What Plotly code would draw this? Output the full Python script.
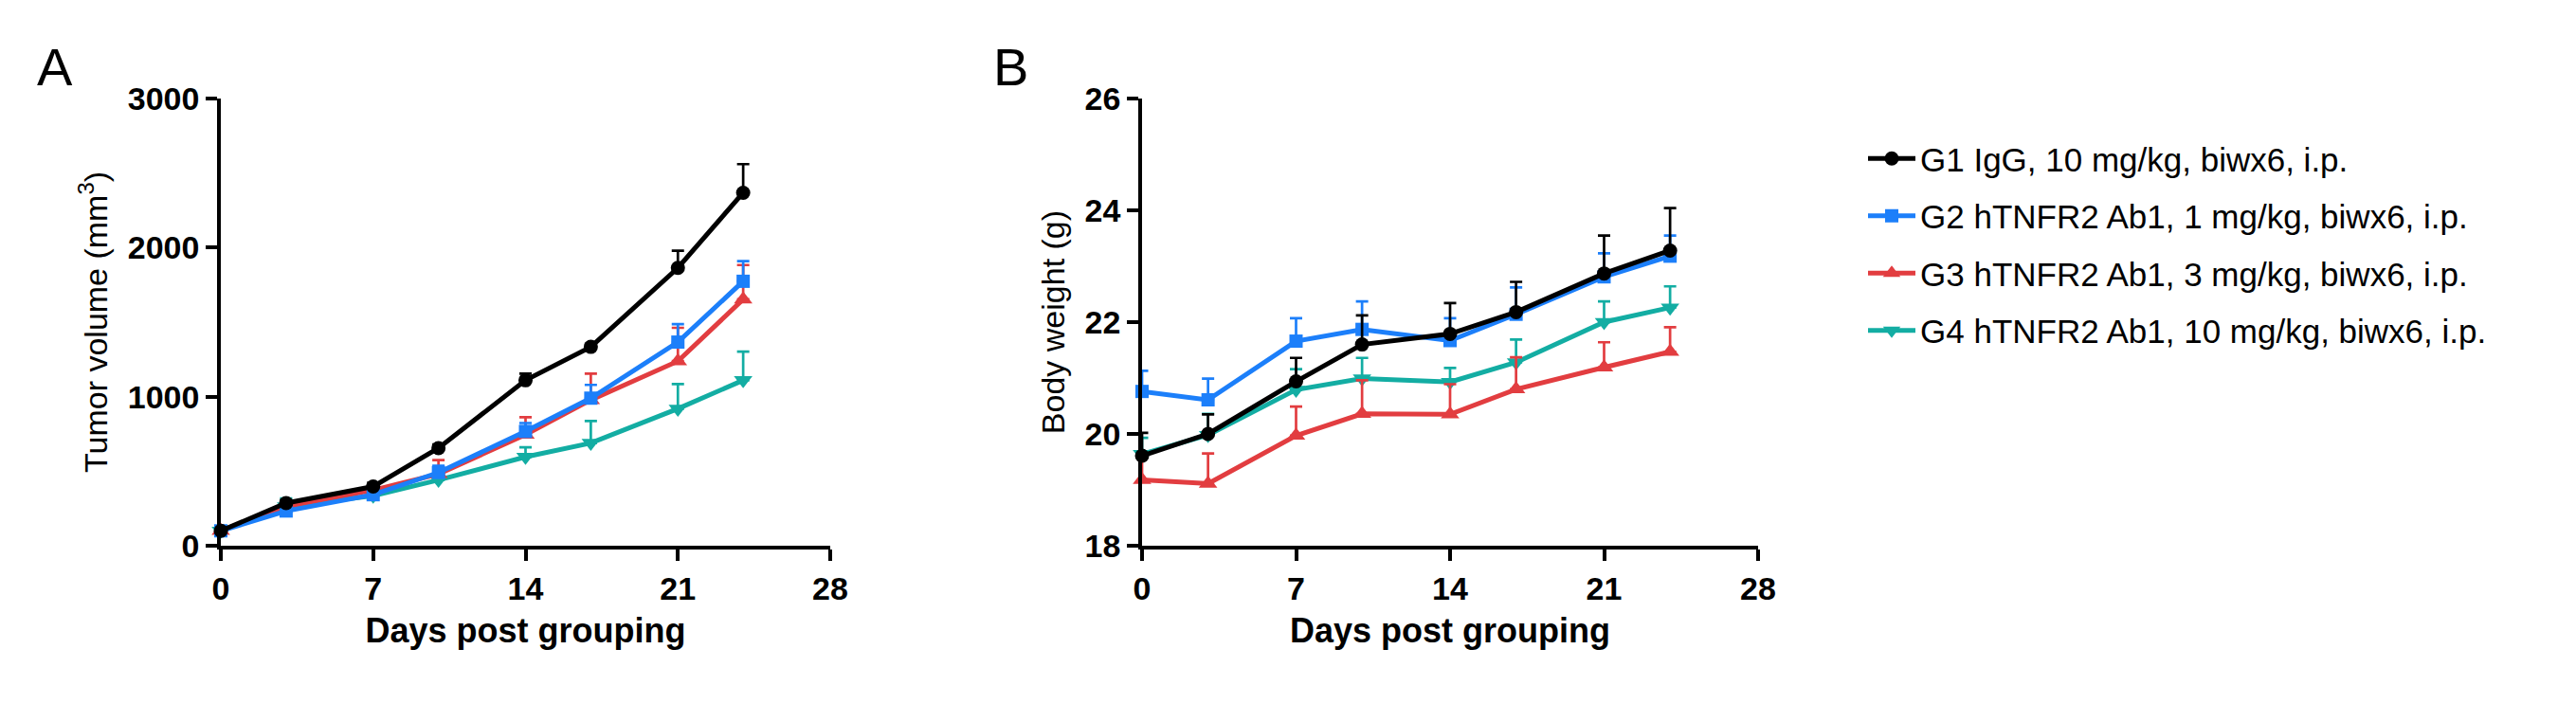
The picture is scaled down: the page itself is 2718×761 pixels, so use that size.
import plotly.graph_objects as go

# days after grouping (same for both panels)
days = [0, 3, 7, 10, 14, 17, 21, 24]

group_names = [
    "G1 IgG, 10 mg/kg, biwx6, i.p.",
    "G2 hTNFR2 Ab1, 1 mg/kg, biwx6, i.p.",
    "G3 hTNFR2 Ab1, 3 mg/kg, biwx6, i.p.",
    "G4 hTNFR2 Ab1, 10 mg/kg, biwx6, i.p.",
]

# panel A - tumor volume (mm3), mean and upper SEM
tv_g1 = [100, 286, 397, 655, 1110, 1334, 1864, 2368]
tv_g1_err = [10, 20, 25, 25, 45, 20, 115, 192]
tv_g2 = [100, 233, 342, 491, 767, 990, 1366, 1774]
tv_g2_err = [10, 15, 20, 45, 56, 89, 121, 135]
tv_g3 = [100, 264, 373, 481, 745, 978, 1238, 1653]
tv_g3_err = [10, 20, 25, 94, 117, 177, 224, 230]
tv_g4 = [100, 264, 335, 441, 596, 689, 919, 1110]
tv_g4_err = [10, 53, 15, 15, 64, 147, 166, 192]

# panel B - body weight (g), mean and upper SEM
bw_g1 = [19.61, 20.00, 20.94, 21.60, 21.79, 22.18, 22.87, 23.28]
bw_g1_err = [0.41, 0.35, 0.42, 0.52, 0.55, 0.54, 0.68, 0.76]
bw_g2 = [20.76, 20.61, 21.66, 21.87, 21.67, 22.14, 22.81, 23.18]
bw_g2_err = [0.37, 0.38, 0.41, 0.50, 0.40, 0.48, 0.42, 0.37]
bw_g3 = [19.18, 19.11, 19.97, 20.36, 20.35, 20.80, 21.19, 21.47]
bw_g3_err = [0.40, 0.54, 0.52, 0.60, 0.54, 0.57, 0.45, 0.44]
bw_g4 = [19.64, 19.98, 20.79, 20.99, 20.93, 21.28, 22.00, 22.26]
bw_g4_err = [0.29, 0.38, 0.37, 0.37, 0.25, 0.41, 0.37, 0.38]

x_ticks = [0, 7, 14, 21, 28]
tv_ticks = [0, 1000, 2000, 3000]
bw_ticks = [18, 20, 22, 24, 26]

colors = ["#000000", "#1c7ffa", "#e23d40", "#13ada3"]
symbols = ["circle", "square", "triangle-up", "triangle-down"]
marker_sizes = [15, 14, 17, 17]

FONT = "Liberation Sans, Arial, sans-serif"
W, H = 2718, 761
OFF = 8  # page body margin, so screen px -> figure px


def px(x):
    return (x - OFF) / W


def py(y):
    return (H - (y - OFF)) / H


tv = [(tv_g1, tv_g1_err), (tv_g2, tv_g2_err), (tv_g3, tv_g3_err), (tv_g4, tv_g4_err)]
bw = [(bw_g1, bw_g1_err), (bw_g2, bw_g2_err), (bw_g3, bw_g3_err), (bw_g4, bw_g4_err)]

fig = go.Figure()


def add_group(i, y, err, xa, ya, show):
    fig.add_trace(go.Scatter(
        x=days, y=y,
        mode="lines+markers",
        name=group_names[i],
        legendgroup="g%d" % i,
        legendrank=i + 1,
        showlegend=show,
        line=dict(color=colors[i], width=5),
        marker=dict(color=colors[i], size=marker_sizes[i], symbol=symbols[i]),
        error_y=dict(type="data", symmetric=False, array=err,
                     arrayminus=[0] * len(err), color=colors[i],
                     thickness=2.7, width=6.5),
        cliponaxis=False,
        xaxis=xa, yaxis=ya,
    ))


# draw G4 first so G1 ends up on top
for i in [3, 2, 1, 0]:
    add_group(i, tv[i][0], tv[i][1], "x", "y", True)
for i in [3, 2, 1, 0]:
    add_group(i, bw[i][0], bw[i][1], "x2", "y2", False)

axis_style = dict(
    showgrid=False, zeroline=False, automargin=False,
    showline=True, linecolor="black", linewidth=3.5,
    ticks="outside", ticklen=12, tickwidth=3.5, tickcolor="black",
    tickfont=dict(family=FONT, size=34, color="black", weight="bold"),
)
xtitle = dict(text="Days post grouping", standoff=15,
              font=dict(family=FONT, size=36, color="black", weight="bold"))

y_dom = [py(576), py(104)]

fig.update_layout(
    width=W, height=H,
    margin=dict(l=0, r=0, t=0, b=0),
    paper_bgcolor="white", plot_bgcolor="white",
    xaxis=dict(axis_style, domain=[px(233), px(876)], range=[0, 28],
               tickvals=x_ticks, title=xtitle, anchor="y"),
    yaxis=dict(axis_style, domain=y_dom, range=[0, 3000], tickvals=tv_ticks,
               anchor="x",
               title=dict(text="Tumor volume (mm<sup>3</sup>)", standoff=12,
                          font=dict(family=FONT, size=34, color="black"))),
    xaxis2=dict(axis_style, domain=[px(1205), px(1855)], range=[0, 28],
                tickvals=x_ticks, title=xtitle, anchor="y2"),
    yaxis2=dict(axis_style, domain=y_dom, range=[18, 26], tickvals=bw_ticks,
                anchor="x2",
                title=dict(text="Body weight (g)", standoff=12,
                           font=dict(family=FONT, size=34, color="black"))),
    legend=dict(x=px(1966), y=py(138), xanchor="left", yanchor="top",
                traceorder="grouped", tracegroupgap=12, itemwidth=50,
                font=dict(family=FONT, size=35, color="black"),
                bgcolor="rgba(0,0,0,0)"),
    annotations=[
        dict(text="A", x=px(37), y=py(70), xref="paper", yref="paper",
             xanchor="left", yanchor="middle", showarrow=False,
             font=dict(family=FONT, size=56, color="black")),
        dict(text="B", x=px(1046), y=py(70), xref="paper", yref="paper",
             xanchor="left", yanchor="middle", showarrow=False,
             font=dict(family=FONT, size=56, color="black")),
    ],
)

fig.write_html("out.html")
